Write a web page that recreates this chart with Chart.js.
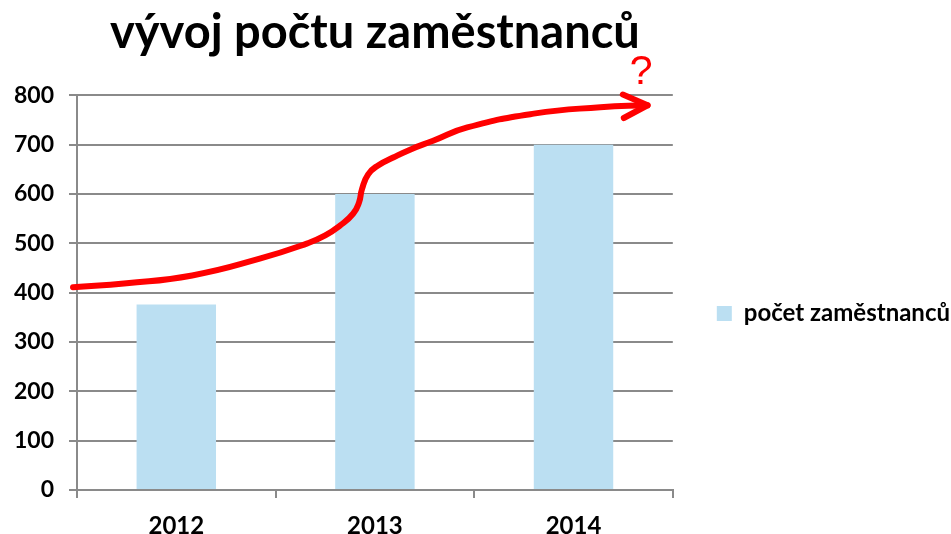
<!DOCTYPE html>
<html>
<head>
<meta charset="utf-8">
<script src="https://cdn.jsdelivr.net/npm/chart.js@4"></script>
<style>
  html, body { margin: 0; padding: 0; background: #fff; }
  #wrap { width: 951px; height: 534px; }
</style>
</head>
<body>
<div id="wrap"><canvas id="staffChart"></canvas></div>
<script>
/*************************************************
 * 1. Data
 *************************************************/
const years = ["2012", "2013", "2014"];
const staffCounts = [376, 600, 700];
const yMax = 800;
const yStep = 100;

// hand-drawn trend arrow, x in category index units, y in staff count
const arrowX = [-0.52, -0.25, 0.08, 0.42, 0.66, 0.75, 0.824, 0.89, 0.92, 0.935, 0.966, 1.016, 1.092, 1.177, 1.293, 1.465, 1.80, 2.135, 2.373];
const arrowY = [411, 419, 435, 469, 500, 516, 536, 560, 583, 610, 640, 658, 674, 690, 708, 735, 763, 776, 780];
const questionMark = { x: 2.34, y: 846, text: "?" };

const gridGray = "#8a8a8a";
const barBlue = "#bbdff2";
const arrowRed = "#ff0000";

Chart.defaults.font.family = "Lato, 'DejaVu Sans', sans-serif";
Chart.defaults.color = "#000";

/*************************************************
 * 2. Arrow head + question mark
 *************************************************/
const arrowDecor = {
    id: "arrowDecor",
    afterDatasetsDraw(chart) {
        const xs = chart.scales.xArrow;
        const ys = chart.scales.y;
        const n = arrowX.length;
        const tx = xs.getPixelForValue(arrowX[n - 1]);
        const ty = ys.getPixelForValue(arrowY[n - 1]);
        const px = xs.getPixelForValue(arrowX[n - 2]);
        const py = ys.getPixelForValue(arrowY[n - 2]);
        const ang = Math.atan2(ty - py, tx - px);
        const len = 27;
        const spread = 0.45;
        const ctx = chart.ctx;

        ctx.save();
        ctx.strokeStyle = arrowRed;
        ctx.lineWidth = 6;
        ctx.lineCap = "round";
        ctx.lineJoin = "round";
        ctx.beginPath();
        ctx.moveTo(tx - len * Math.cos(ang - spread), ty - len * Math.sin(ang - spread));
        ctx.lineTo(tx, ty);
        ctx.lineTo(tx - len * Math.cos(ang + spread), ty - len * Math.sin(ang + spread));
        ctx.stroke();

        ctx.fillStyle = arrowRed;
        ctx.font = "41px 'Liberation Sans', sans-serif";
        ctx.textAlign = "center";
        ctx.textBaseline = "middle";
        ctx.fillText(questionMark.text,
            xs.getPixelForValue(questionMark.x),
            ys.getPixelForValue(questionMark.y));
        ctx.restore();
    }
};

/*************************************************
 * 3. Chart
 *************************************************/
new Chart(document.getElementById("staffChart"), {
    type: "bar",
    data: {
        labels: years,
        datasets: [
            {
                type: "line",
                label: "trend",
                xAxisID: "xArrow",
                data: arrowX.map((x, i) => ({ x: x, y: arrowY[i] })),
                borderColor: arrowRed,
                borderWidth: 6,
                borderCapStyle: "round",
                borderJoinStyle: "round",
                pointRadius: 0,
                tension: 0.5,
                clip: false,
                order: 0
            },
            {
                label: "počet zaměstnanců",
                data: staffCounts,
                backgroundColor: barBlue,
                grouped: false,
                barPercentage: 0.4,
                categoryPercentage: 1,
                order: 1
            }
        ]
    },
    options: {
        responsive: true,
        maintainAspectRatio: false,
        animation: false,
        layout: { padding: { top: 0, left: 0, bottom: 0, right: -9 } },
        plugins: {
            title: {
                display: true,
                text: "vývoj počtu zaměstnanců",
                fullSize: false,
                font: { size: 47, weight: "bold" },
                color: "#000",
                padding: { top: 5, bottom: 34 }
            },
            legend: {
                position: "right",
                maxWidth: 400,
                title: { display: true, text: "", padding: { top: 92, bottom: 0 }, font: { size: 1 } },
                labels: {
                    boxWidth: 15,
                    boxHeight: 15,
                    padding: 44,
                    font: { size: 24, weight: "bold" },
                    color: "#000",
                    filter: item => item.datasetIndex === 1
                }
            },
            tooltip: { enabled: false }
        },
        scales: {
            x: {
                grid: { offset: true, drawOnChartArea: false, drawTicks: true, tickLength: 8, color: gridGray, lineWidth: 2 },
                border: { color: gridGray, width: 2 },
                ticks: { font: { size: 24, weight: "bold" }, color: "#000", padding: 14 },
                afterFit: s => { s.height = 44; }
            },
            xArrow: {
                type: "linear",
                display: false,
                offset: false,
                grid: { offset: false },
                min: -0.5,
                max: years.length - 0.5
            },
            y: {
                min: 0,
                max: yMax,
                ticks: { stepSize: yStep, font: { size: 23, weight: "bold" }, color: "#000", padding: 15 },
                grid: { color: gridGray, lineWidth: 2, tickLength: 8 },
                border: { color: gridGray, width: 2 },
                afterFit: s => { s.width = 77; }
            }
        }
    },
    plugins: [arrowDecor]
});
</script>
</body>
</html>
